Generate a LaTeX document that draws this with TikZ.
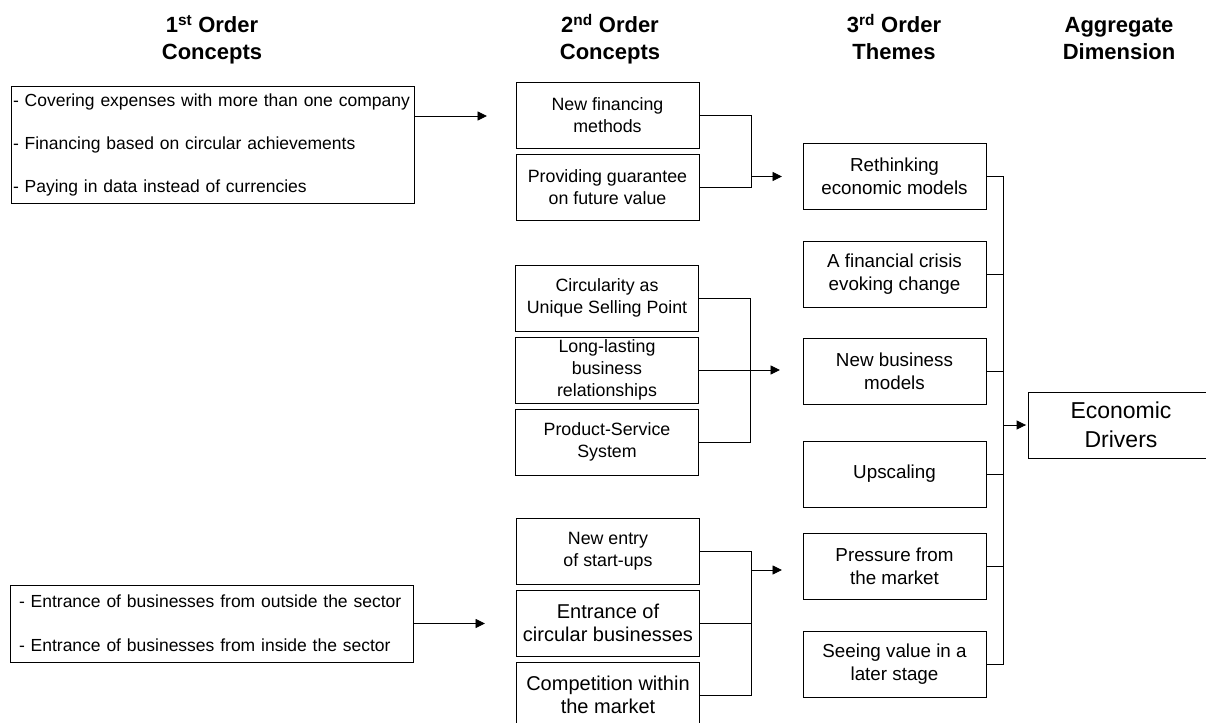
\documentclass[tikz,border=0pt]{standalone}
\usepackage{fontspec}
\setmainfont{Liberation Sans}
\usetikzlibrary{arrows.meta}
\begin{document}
\begin{tikzpicture}[x=1pt,y=-1pt,
  box/.style={draw, line width=0.9pt, inner sep=0pt, minimum width=183pt, minimum height=66pt,
              align=center, font=\fontsize{17.8}{22}\selectfont},
  bigbox/.style={box, font=\fontsize{20}{23.5}\selectfont},
  theme/.style={box, font=\fontsize{18.8}{23}\selectfont},
  listbox/.style={draw, line width=0.9pt, inner ysep=0pt, minimum width=403pt, align=left,
                  font=\fontsize{17.5}{22}\selectfont},
  head/.style={font=\fontsize{22}{27}\selectfont\bfseries, anchor=base, inner sep=0pt},
  link/.style={line width=0.9pt},
  arr/.style={link, -{Triangle[length=9.5pt,width=9pt]}},
]
\useasboundingbox (0,0) rectangle (1206,722);
\fill[white] (0,0) rectangle (1206,722);

% column headings
\node[head] (h1a) at (212,33) {1\textsuperscript{st} Order};
\node[head] (h1b) at (212,60) {Concepts};
\node[head] (h2a) at (610,33) {2\textsuperscript{nd} Order};
\node[head] (h2b) at (610,60) {Concepts};
\node[head] (h3a) at (894,33) {3\textsuperscript{rd} Order};
\node[head] (h3b) at (894,60) {Themes};
\node[head] (h4a) at (1119,33) {Aggregate};
\node[head] (h4b) at (1119,60) {Dimension};

% first order concepts
\node[listbox, minimum height=117pt, inner xsep=2pt, text width=399pt] (c1a) at (212.5,144.5)
  {- Covering expenses with more than one company\\[21pt]
   - Financing based on circular achievements\\[21pt]
   - Paying in data instead of currencies};
\node[listbox, minimum height=77pt, inner xsep=9pt, text width=385pt] (c1b) at (211.5,623.5)
  {- Entrance of businesses from outside the sector\\[22pt]
   - Entrance of businesses from inside the sector};

% second order concepts
\node[box] (n1) at (607.5,115.5) {New financing\\methods};
\node[box] (n2) at (607.5,187.5) {Providing guarantee\\on future value};
\node[box] (n3) at (607,298) {Circularity as\\Unique Selling Point};
\node[box] (n4) at (607,370) {Long-lasting\\business\\relationships};
\node[box] (n5) at (607,442) {Product-Service\\System};
\node[box] (n6) at (608,551) {New entry\\of start-ups};
\node[bigbox] (n7) at (608,623) {Entrance of\\circular businesses};
\node[bigbox] (n8) at (608,695) {Competition within\\the market};

% third order themes
\node[theme] (t1) at (894.5,176.5) {Rethinking\\economic models};
\node[theme] (t2) at (894.5,274) {A financial crisis\\evoking change};
\node[theme] (t3) at (894.5,371) {New business\\models};
\node[theme] (t4) at (894.5,474) {Upscaling};
\node[theme] (t5) at (894.5,566) {Pressure from\\the market};
\node[theme] (t6) at (894.5,664) {Seeing value in a\\later stage};

% aggregate dimension
\node[box, minimum width=186pt, font=\fontsize{23}{29}\selectfont] (ed) at (1121,425) {Economic\\Drivers};

% junction points and free arrow ends
\coordinate (e0) at (487,116);
\coordinate (e4) at (485,623.5);
\coordinate (j1) at (751,176.5);
\coordinate (e1) at (782,176.5);
\coordinate (j2) at (750,370);
\coordinate (e2) at (780,370);
\coordinate (j3) at (751,570);
\coordinate (e3) at (782,570);
\coordinate (j4) at (1003,425);

% first to second order
\draw[arr] (c1a.east |- e0) -- (e0);
\draw[arr] (c1b.east) -- (e4);

% second order groups to themes
\draw[link] (n1.east) -| (j1 |- n2.east) -- (n2.east);
\draw[arr] (j1) -- (e1);

\draw[link] (n3.east) -| (j2 |- n5.east) -- (n5.east);
\draw[arr] (n4.east) -- (e2);

\draw[link] (n6.east) -| (j3 |- n8.east) -- (n8.east);
\draw[link] (n7.east) -- (j3 |- n7.east);
\draw[arr] (j3) -- (e3);

% themes to aggregate dimension
\draw[link] (t1.east) -| (j4 |- t6.east) -- (t6.east);
\foreach \t in {t2,t3,t4,t5}
  \draw[link] (\t.east) -- (j4 |- \t.east);
\draw[arr, shorten >=1.5pt] (j4) -- (ed.west);
\end{tikzpicture}
\end{document}
